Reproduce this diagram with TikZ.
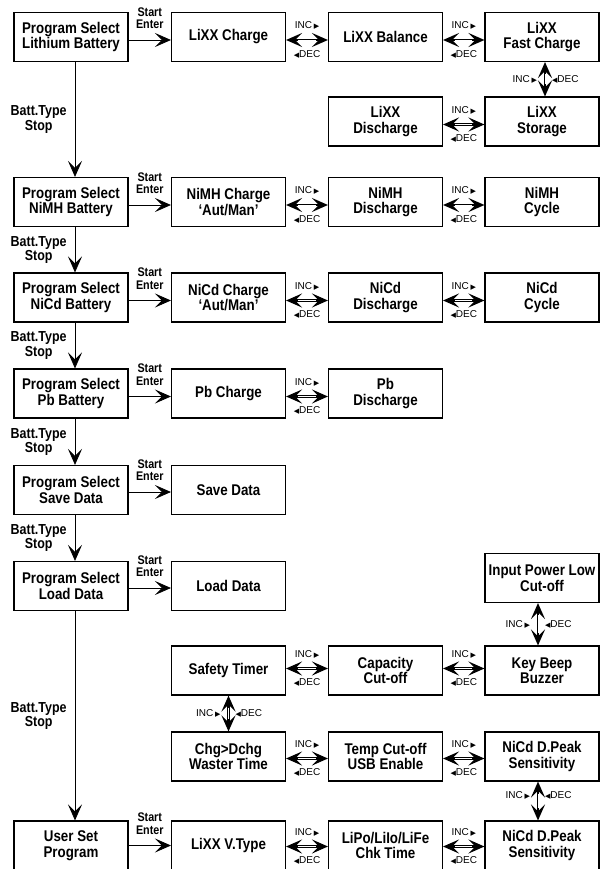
\documentclass[tikz,border=0pt]{standalone}
\usepackage{fontspec}
\setmainfont{Liberation Sans}
\newfontfamily\boxfont{Liberation Sans}[FakeStretch=0.86]
\newfontfamily\symfont{DejaVu Sans}
\usetikzlibrary{arrows.meta}

\newcommand{\incr}{INC\,{\symfont\fontsize{7}{7}\selectfont ▶}}
\newcommand{\decr}{{\symfont\fontsize{7}{7}\selectfont ◀}DEC}

\begin{document}
\begin{tikzpicture}[x=1pt, y=-1pt,
    chev/.tip={Stealth[length=16pt, width=14pt, inset=7pt]},
    box/.style={draw, line width=1.1pt, minimum width=114pt, minimum height=49pt,
      inner sep=0pt, align=center, font=\boxfont\bfseries\fontsize{15.5}{15.5}\selectfont},
    one/.style={-chev, line width=0.8pt},
    dbl/.style={chev-chev, line width=2.2pt,
      postaction={draw=white, line width=0.7pt, -, shorten >=12pt, shorten <=12pt}},
    gotxt/.style={align=center, inner sep=1pt, font=\boxfont\bfseries\fontsize{12.5}{12.5}\selectfont},
    batt/.style={align=center, inner sep=1pt, font=\boxfont\bfseries\fontsize{14.5}{12}\selectfont},
    keytxt/.style={inner sep=1pt, font=\fontsize{10}{10}\selectfont}]
    \useasboundingbox (0,0) rectangle (600,869);
    \clip (0,0) rectangle (600,869);

    % lithium
    \node[box] (pli) at (71,37) {Program Select\\Lithium Battery};
    \node[box] (lch) at (228.5,37) {LiXX Charge};
    \node[box] (lbal) at (385.5,37) {LiXX Balance};
    \node[box] (lfast) at (542,37) {LiXX\\Fast Charge};
    \node[box] (ldis) at (385.5,121.5) {LiXX\\Discharge};
    \node[box] (lsto) at (542,121.5) {LiXX\\Storage};
    % nimh / nicd
    \node[box] (pnimh) at (71,202) {Program Select\\NiMH Battery};
    \node[box] (nmch) at (228.5,202) {NiMH Charge\\‘Aut/Man’};
    \node[box] (nmdis) at (385.5,202) {NiMH\\Discharge};
    \node[box] (nmcyc) at (542,202) {NiMH\\Cycle};
    \node[box] (pnicd) at (71,297.5) {Program Select\\NiCd Battery};
    \node[box] (ncch) at (228.5,297.5) {NiCd Charge\\‘Aut/Man’};
    \node[box] (ncdis) at (385.5,297.5) {NiCd\\Discharge};
    \node[box] (nccyc) at (542,297.5) {NiCd\\Cycle};
    % pb, save, load
    \node[box] (ppb) at (71,393.5) {Program Select\\Pb Battery};
    \node[box] (pbch) at (228.5,393.5) {Pb Charge};
    \node[box] (pbdis) at (385.5,393.5) {Pb\\Discharge};
    \node[box] (psave) at (71,490) {Program Select\\Save Data};
    \node[box] (save) at (228.5,490) {Save Data};
    \node[box] (pload) at (71,586) {Program Select\\Load Data};
    \node[box] (load) at (228.5,586) {Load Data};
    % user set
    \node[box] (inlow) at (542,578) {Input Power Low\\Cut-off};
    \node[box] (timer) at (228.5,670.5) {Safety Timer};
    \node[box] (cap) at (385.5,670.5) {Capacity\\Cut-off};
    \node[box] (beep) at (542,670.5) {Key Beep\\Buzzer};
    \node[box] (waste) at (228.5,756.5) {Chg>Dchg\\Waster Time};
    \node[box] (temp) at (385.5,756.5) {Temp Cut-off\\USB Enable};
    \node[box] (peaka) at (542,756.5) {NiCd D.Peak\\Sensitivity};
    \node[box] (user) at (71,845.5) {User Set\\Program};
    \node[box] (vtype) at (228.5,845.5) {LiXX V.Type};
    \node[box] (chk) at (385.5,845.5) {LiPo/LiIo/LiFe\\Chk Time};
    \node[box] (peakb) at (542,845.5) {NiCd D.Peak\\Sensitivity};

    % batt.type / stop
    \foreach \a/\b in {pli/pnimh, pnimh/pnicd, pnicd/ppb, ppb/psave, psave/pload, pload/user}
        \draw[one] ([xshift=4pt]\a.south) -- ([xshift=4pt]\b.north)
            node[midway, left=7pt, batt] {Batt.Type\\Stop};

    % start / enter
    \foreach \a/\b/\s in {pli/lch/-3, pnimh/nmch/-3, pnicd/ncch/-3, ppb/pbch/-3,
                          psave/save/-2, pload/load/-2, user/vtype/0}
        \draw[one] ([yshift=\s pt]\a.east) -- ([yshift=\s pt]\b.west)
            node[midway, above=9.5pt, gotxt] {Start\\Enter};

    % inc / dec, side by side
    \foreach \a/\b/\s in {lch/lbal/-3, lbal/lfast/-3, ldis/lsto/-3, nmch/nmdis/-3,
                          nmdis/nmcyc/-3, ncch/ncdis/-3, ncdis/nccyc/-3, pbch/pbdis/-3,
                          timer/cap/2, cap/beep/2, waste/temp/-2, temp/peaka/-2,
                          vtype/chk/-1, chk/peakb/-1}
        \draw[dbl] ([yshift=\s pt]\a.east) -- ([yshift=\s pt]\b.west)
            node[midway, above=8.5pt, keytxt] {\incr}
            node[midway, below=8pt, keytxt] {\decr};

    % inc / dec, one above the other
    \foreach \a/\b/\s/\t in {lfast/lsto/3/0, inlow/beep/-4/0, timer/waste/0/0, peaka/peakb/-4/6}
        \draw[dbl] ([xshift=\s pt]\a.south) -- ([xshift=\s pt]\b.north)
            node[midway, left=6pt, yshift=\t pt, keytxt] {\incr}
            node[midway, right=5pt, yshift=\t pt, keytxt] {\decr};
\end{tikzpicture}
\end{document}
